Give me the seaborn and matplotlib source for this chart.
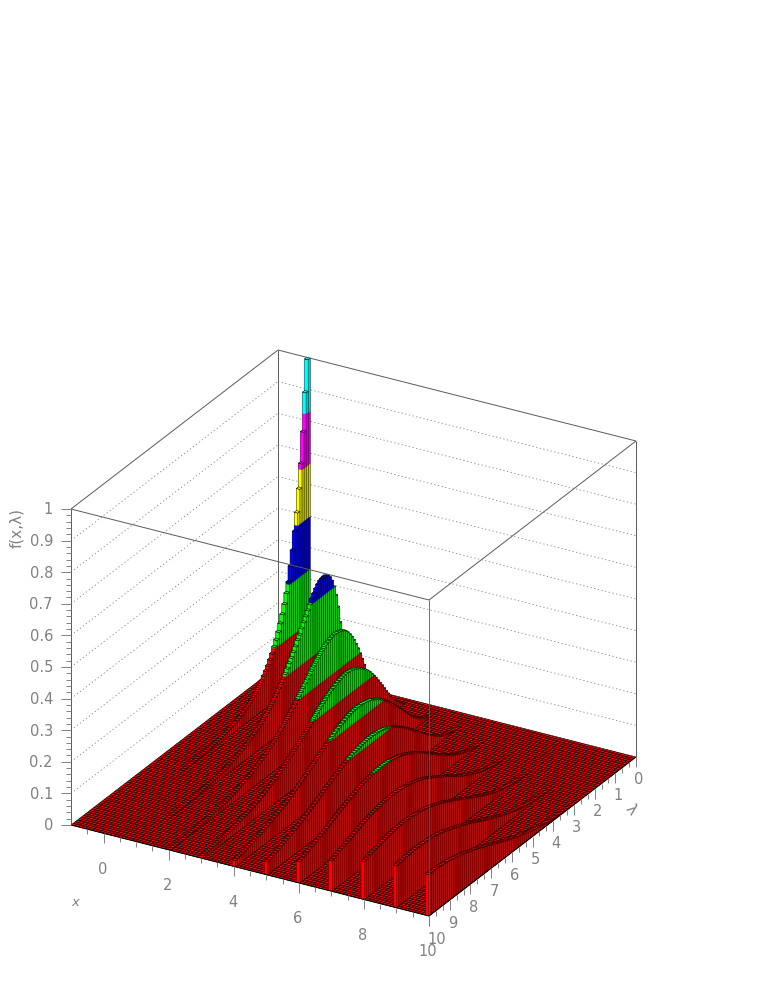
import matplotlib
matplotlib.use("Agg")
import matplotlib.pyplot as plt
from matplotlib.collections import PolyCollection
import numpy as np
import seaborn as sns

# bar heights along lambda (0.1 wide bins), one list per ridge
ridge_0 = [1.0, .90, .78, .685, .61, .54, .485, .43, .385, .34, .31, .28, .253, .229, .207, .187, .17, .153, .139, .125,
           .113, .103, .093, .084, .076, .069, .062, .056, .051, .046, .042, .038, .034, .031, .028, .025, .023, .021, .019, .017,
           .015, .014, .012, .011, .010, .009, .008, .007, .006, .006, .005, .005, .004, .004, .003, .003, .003, .002, .002, .002, .002]
ridge_1 = [.050, .136, .205, .259, .301, .333, .356, .372, .382, .386, .385, .382, .376, .367, .357, .346, .333, .319, .305, .291,
           .277, .262, .250, .235, .222, .209, .197, .185, .173, .162, .152, .142, .132, .124, .115, .107, .100, .093, .086, .080,
           .074, .069, .064, .059, .055, .051, .047, .043, .040, .037, .034, .031, .029, .027, .025, .023, .021, .019, .018, .016,
           .015, .014, .013, .012, .011, .010, .009, .008, .008, .007, .006, .006, .005, .005, .005, .004, .004, .004, .003, .003,
           .003, .002, .002, .002, .002, .002]
ridge_2 = [.001, .010, .026, .045, .068, .092, .116, .140, .162, .183, .202, .220, .235, .248, .259, .268, .275, .279, .282, .284,
           .284, .282, .279, .276, .272, .266, .261, .254, .247, .239, .232, .224, .215, .207, .199, .190, .182, .174, .166, .158,
           .150, .143, .136, .129, .122, .115, .108, .103, .097, .091, .086, .081, .076, .071, .067, .063, .059, .055, .052, .048,
           .045, .042, .040, .037, .035, .032, .030, .028, .026, .024, .023, .021, .020, .018, .017, .016, .015, .014, .013, .012,
           .011, .010, .009, .009, .008, .007, .007, .006, .006, .005, .005, .005, .004, .004, .004, .003, .003, .003, .003, .002]
ridge_3 = [0, .001, .002, .005, .010, .017, .025, .035, .046, .058, .071, .084, .098, .112, .125, .138, .151, .163, .174, .185,
           .194, .202, .209, .216, .222, .226, .231, .233, .235, .235, .236, .235, .233, .231, .229, .225, .221, .218, .213, .208,
           .203, .198, .193, .187, .181, .175, .168, .163, .157, .150, .145, .139, .133, .127, .122, .117, .111, .106, .101, .096,
           .091, .087, .082, .078, .074, .071, .067, .063, .060, .056, .053, .050, .047, .045, .042, .040, .038, .036, .034, .032,
           .030, .028, .026, .024, .023, .021, .020, .019, .018, .017, .016, .015, .014, .013, .012, .011, .011, .010, .009, .009]
ridge_4 = [0] * 4 + [.001, .002, .004, .007, .010, .014, .019, .024, .031, .038, .045, .053, .062, .071, .080, .090,
           .099, .109, .118, .127, .136, .144, .153, .160, .167, .173, .180, .185, .189, .193, .198, .200, .202, .204, .205, .205,
           .206, .205, .205, .203, .201, .199, .196, .193, .190, .186, .183, .179, .175, .170, .166, .162, .157, .152, .148, .143,
           .138, .134, .129, .124, .119, .115, .111, .106, .102, .098, .094, .090, .086, .082, .078, .075, .072, .069, .066, .063,
           .060, .057, .054, .051, .048, .046, .043, .041, .039, .037, .035, .033, .031, .029, .027, .026, .024, .023, .022, .020]
ridge_5 = [0] * 6 + [.001, .001, .002, .003, .004, .006, .008, .010, .013, .016, .020, .025, .030, .035,
           .041, .047, .053, .060, .067, .073, .081, .088, .095, .102, .110, .117, .123, .129, .136, .142, .147, .153, .158, .162,
           .167, .170, .174, .177, .179, .181, .182, .183, .184, .184, .184, .184, .183, .182, .181, .179, .177, .175, .173, .170,
           .167, .164, .161, .157, .154, .150, .147, .143, .140, .136, .133, .129, .125, .121, .117, .113, .109, .106, .102, .098,
           .094, .091, .087, .084, .081, .077, .074, .071, .068, .065, .062, .060, .057, .054, .052, .049, .047, .045, .043, .041]
ridge_6 = [0] * 10 + [.001, .001, .002, .002, .003, .004, .006, .007, .009, .011,
           .014, .017, .020, .024, .027, .031, .036, .040, .045, .050, .056, .061, .067, .072, .078, .084, .089, .096, .101, .107,
           .113, .118, .123, .128, .133, .137, .141, .145, .149, .152, .155, .158, .160, .162, .164, .166, .167, .168, .168, .169,
           .168, .168, .168, .167, .166, .164, .163, .161, .160, .157, .156, .154, .151, .148, .145, .142, .139, .136, .133, .130,
           .126, .124, .120, .117, .114, .110, .107, .104, .100, .097, .094, .091, .088, .085, .082, .079, .076, .073, .070, .068]
ridge_7 = [0] * 15 + [.001, .001, .002, .002, .003,
           .004, .005, .006, .008, .009, .011, .014, .016, .018, .021, .024, .027, .031, .034, .038, .043, .046, .051, .056, .060,
           .065, .070, .075, .079, .085, .089, .094, .098, .103, .107, .112, .116, .120, .124, .128, .132, .135, .138, .140, .143,
           .145, .148, .150, .151, .153, .154, .155, .155, .156, .156, .156, .156, .155, .155, .154, .153, .152, .151, .149, .148,
           .146, .144, .142, .140, .138, .135, .132, .130, .127, .124, .122, .119, .116, .113, .111, .108, .105, .102, .099, .096]
ridge_8 = [0] * 20 + [.001, .001, .002, .002, .003, .004, .005, .006, .007, .008, .009, .011, .013, .014, .016, .019, .021, .024, .027, .030,
           .033, .036, .040, .043, .047, .051, .055, .058, .062, .066, .071, .075, .079, .083, .087, .092, .095, .099, .102, .106,
           .110, .114, .117, .120, .123, .126, .129, .131, .134, .136, .137, .139, .140, .142, .143, .144, .145, .146, .146, .147,
           .147, .147, .146, .146, .146, .144, .143, .142, .140, .139, .138, .136, .134, .132, .131, .129, .127, .124, .122, .119]
ridge_9 = [0] * 25 + [.001, .001, .002, .002, .003, .003, .004, .005, .005, .006, .007, .009, .010, .012, .013,
           .015, .017, .019, .021, .023, .026, .028, .031, .033, .036, .040, .043, .046, .049, .053, .057, .060, .063, .066, .070,
           .074, .078, .081, .085, .088, .092, .095, .098, .102, .105, .107, .110, .113, .116, .118, .121, .123, .126, .127, .130,
           .131, .133, .134, .135, .137, .137, .137, .138, .138, .138, .139, .138, .138, .137, .137, .137, .136, .134, .133, .132]
ridge_10 = [0] * 30 + [.001, .001, .002, .002, .002, .002, .003, .004, .005, .005,
            .006, .007, .008, .009, .010, .012, .013, .015, .016, .018, .020, .022, .024, .026, .029, .032, .034, .036, .039, .042,
            .045, .048, .051, .054, .057, .060, .063, .066, .070, .073, .075, .079, .082, .085, .088, .091, .094, .098, .100, .103,
            .105, .108, .111, .113, .116, .117, .119, .121, .122, .124, .126, .126, .128, .128, .129, .131, .131, .131, .131, .131]
ridges = [ridge_0, ridge_1, ridge_2, ridge_3, ridge_4, ridge_5, ridge_6, ridge_7, ridge_8, ridge_9, ridge_10]

# which x bin each ridge falls in
ridge_bins = [8, 18, 27, 36, 45, 54, 63, 72, 81, 90, 99]

z_ticks = [0, .1, .2, .3, .4, .5, .6, .7, .8, .9, 1]
z_labels = ["0", "0.1", "0.2", "0.3", "0.4", "0.5", "0.6", "0.7", "0.8", "0.9", "1"]
x_ticks = [0, 2, 4, 6, 8, 10]
lam_ticks = [0, 1, 2, 3, 4, 5, 6, 7, 8, 9, 10]

sns.set_style("white")
plt.rcParams["font.family"] = ["DejaVu Sans"]
GREY = "#808080"
LINE = "#5a5a5a"

bright = sns.color_palette(["#ff0000", "#00ff00", "#0000ff", "#ffff00", "#ff00ff", "#00ffff"])
dark = sns.color_palette(["#d20000", "#00d200", "#0000d2", "#d2d200", "#d200d2", "#00d2d2"])
levels = np.linspace(0, 1, 7)

N_X, N_LAM = 100, 100
x_edges = np.linspace(-1, 10, N_X + 1)
lam_edges = np.linspace(0, 10, N_LAM + 1)


def project(x, lam, z=0.0):
    # the view is a parallel projection, so this is linear in all three
    px = 71 + (x + 1) / 11 * 358 + (10 - lam) / 10 * 207
    py = 826 + (x + 1) / 11 * 91 - (10 - lam) / 10 * 159 - z * 316
    return px, py


def band_of(z):
    return min(int(z * 6), 5)


heights = np.zeros((N_X, N_LAM))
for k, r in zip(ridge_bins, ridges):
    heights[k, :len(r)] = r

polys, faces, edges, widths = [], [], [], []
CLEAR = (0, 0, 0, 0)
BLACK = (0, 0, 0, 1)


def add_side(p0, p1, z, colors):
    # side wall of a bar, cut into the colour bands, then its outline
    for b in range(band_of(z) + 1):
        lo, hi = levels[b], min(levels[b + 1], z)
        polys.append([project(*p0, lo), project(*p1, lo), project(*p1, hi), project(*p0, hi)])
        faces.append(colors[b] + (1,))
        edges.append(colors[b] + (1,))
        widths.append(0.2)
    polys.append([project(*p0, 0), project(*p1, 0), project(*p1, z), project(*p0, z)])
    faces.append(CLEAR)
    edges.append(BLACK)
    widths.append(0.3)


for k in range(N_X):
    x0, x1 = x_edges[k], x_edges[k + 1]
    for j in range(N_LAM):
        l0, l1 = lam_edges[j], lam_edges[j + 1]
        z = heights[k, j]
        if z > 0:
            add_side((x1, l1), (x1, l0), z, dark)
            add_side((x0, l1), (x1, l1), z, bright)
        polys.append([project(x0, l0, z), project(x1, l0, z), project(x1, l1, z), project(x0, l1, z)])
        faces.append(bright[band_of(z)] + (1,))
        edges.append(BLACK)
        widths.append(0.4)

fig = plt.figure(figsize=(7.63, 9.87), dpi=100)
ax = fig.add_axes([0, 0, 1, 1])
ax.set_xlim(0, 763)
ax.set_ylim(987, 0)
ax.axis("off")


def seg(a, b, zorder=3, color=LINE, lw=0.7, **kw):
    ax.plot([a[0], b[0]], [a[1], b[1]], color=color, lw=lw, zorder=zorder, solid_capstyle="butt", **kw)


# walls: dotted levels, then the back edges
for z in z_ticks[1:-1]:
    seg(project(-1, 10, z), project(-1, 0, z), zorder=1, color=GREY, lw=0.6, linestyle=(0, (1.5, 3)))
    seg(project(-1, 0, z), project(10, 0, z), zorder=1, color=GREY, lw=0.6, linestyle=(0, (1.5, 3)))
seg(project(-1, 0, 0), project(-1, 0, 1), zorder=1)
seg(project(10, 0, 0), project(10, 0, 1), zorder=1)

bars = PolyCollection(polys, facecolors=faces, edgecolors=edges, linewidths=widths, zorder=2)
bars.set_snap(False)
ax.add_collection(bars)

# box edges that sit in front of the bars
seg(project(-1, 10, 0), project(-1, 10, 1))
seg(project(10, 10, 0), project(10, 10, 1), lw=0.6)
seg(project(-1, 10, 1), project(-1, 0, 1))
seg(project(-1, 0, 1), project(10, 0, 1))
seg(project(10, 0, 1), project(10, 10, 1))
seg(project(10, 10, 1), project(-1, 10, 1))
seg(project(-1, 10, 0), project(10, 10, 0), color="black")
seg(project(10, 10, 0), project(10, 0, 0), color="black")

# z axis
for z in np.arange(0, 1.001, 0.02):
    px, py = project(-1, 10, z)
    major = abs(z * 10 - round(z * 10)) < 1e-6
    seg((px - (10 if major else 5), py), (px, py), color=GREY)
for z, s in zip(z_ticks, z_labels):
    px, py = project(-1, 10, z)
    ax.text(px - 18, py, s, ha="right", va="center", color=GREY, fontsize=10.5)
ax.text(17, 528, "f(x,λ)", rotation=90, ha="center", va="center", color=GREY, fontsize=11)

# x axis
for x in np.arange(-0.5, 10.01, 0.5):
    px, py = project(x, 10)
    major = x >= 0 and x % 2 == 0
    seg((px, py), (px, py + (10 if major else 5)), color=GREY)
for x in x_ticks:
    px, py = project(x, 10)
    ax.text(px - 1, py + 35, str(x), ha="center", va="center", color=GREY, fontsize=10.5)
ax.text(75, 903, "x", ha="center", va="center", color=GREY, fontsize=9.5, style="italic")

# lambda axis
for lam in np.arange(0, 10.01, 1 / 3):
    px, py = project(10, lam)
    major = abs(lam - round(lam)) < 1e-6
    seg((px, py), (px, py + (10 if major else 5)), color=GREY)
for lam in lam_ticks:
    px, py = project(10, lam)
    ax.text(px + (8 if lam == 10 else 3), py + 22, str(lam), ha="center", va="center", color=GREY, fontsize=10.5)
ax.text(631, 810, "λ", rotation=-50, ha="center", va="center", color=GREY, fontsize=11)

fig.savefig("out.png", dpi=100)
